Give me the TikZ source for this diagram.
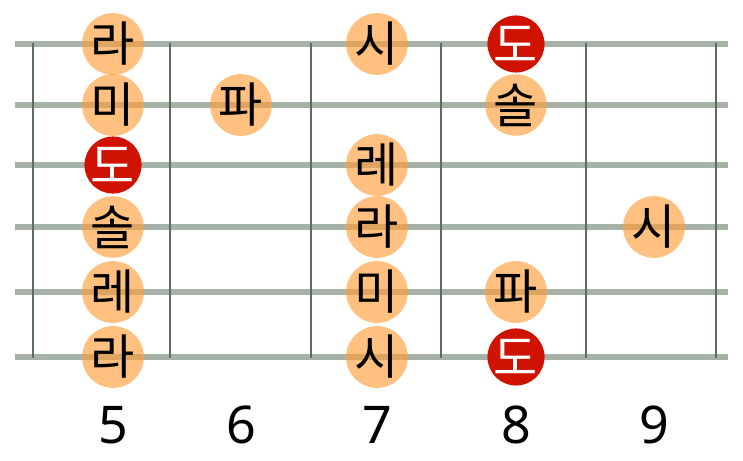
\documentclass[tikz,border=0pt]{standalone}
\usepackage{fontspec}
\setmainfont{Noto Sans}
\newfontfamily\kor{Noto Sans CJK KR}
\usetikzlibrary{positioning}

\definecolor{stringgray}{RGB}{166,178,166}
\definecolor{fretgreen}{RGB}{90,110,90}
\definecolor{noteorange}{RGB}{255,158,60}
\definecolor{rootred}{RGB}{208,18,0}

\tikzset{
  note/.style={circle, fill=noteorange, fill opacity=0.65, text opacity=1,
    minimum size=53pt, inner sep=0pt, font=\kor\fontsize{48}{48}\selectfont},
  root/.style={note, fill=rootred, fill opacity=1, text=white},
  fretnum/.style={font=\fontsize{52}{52}\selectfont, anchor=base},
}

\begin{document}
\begin{tikzpicture}[x=1pt,y=-1pt]
  \useasboundingbox (0,0) rectangle (743,460);

  % Strings
  \foreach \y in {44,105,165,227,292,357}
    \draw[stringgray, line width=6pt] (15,\y) -- (728,\y);

  % Frets
  \foreach \x in {33,170,311,441,586,716}
    \draw[fretgreen, line width=2.5pt] (\x,43) -- (\x,358);

  % Fret numbers
  \foreach \f/\x in {5/113,6/241,7/377,8/516,9/654}
    \node[fretnum] (fret\f) at (\x,443) {\f};

  % Notes
  \foreach \n/\x/\y/\t/\st in {
      1-5/113/44/라/note, 1-7/377/44/시/note, 1-8/516/44/도/root,
      2-5/113/105/미/note, 2-6/241/105/파/note, 2-8/516/105/솔/note,
      3-5/113/165/도/root, 3-7/377/165/레/note,
      4-5/113/227/솔/note, 4-7/377/227/라/note, 4-9/654/227/시/note,
      5-5/113/292/레/note, 5-7/377/292/미/note, 5-8/516/292/파/note,
      6-5/113/357/라/note, 6-7/377/357/시/note, 6-8/516/357/도/root} {
    \node[\st] (n\n) at (\x,\y) {\t};
  }
\end{tikzpicture}
\end{document}
